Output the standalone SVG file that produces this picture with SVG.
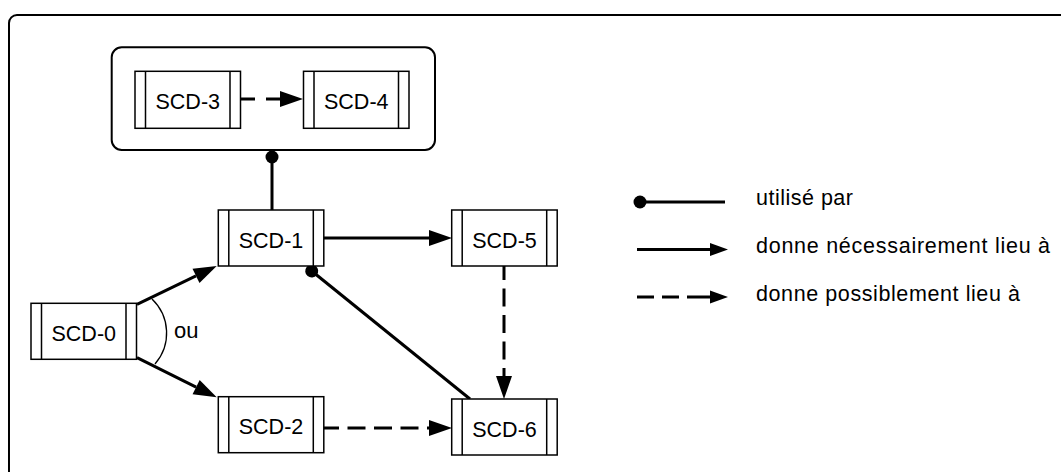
<svg xmlns="http://www.w3.org/2000/svg" width="1061" height="472" viewBox="0 0 1061 472">
<style>
.frame{fill:#fff;stroke:#000;stroke-width:2}
.box{fill:#fff;stroke:#000;stroke-width:1.5}
.bar{stroke:#000;stroke-width:1.5}
.lbl{font-family:"Liberation Sans",Arial,sans-serif;font-size:21.5px;fill:#000;text-anchor:middle}
.leg{font-family:"Liberation Sans",Arial,sans-serif;font-size:21.5px;fill:#000}
.solid{fill:none;stroke:#000;stroke-width:3}
.dash{fill:none;stroke:#000;stroke-width:3;stroke-dasharray:18 8.5}
.thin{fill:none;stroke:#000;stroke-width:1.3}
</style>
<defs>
<marker id="arr" markerUnits="userSpaceOnUse" markerWidth="23" markerHeight="16" viewBox="0 0 23 16" refX="0" refY="8" orient="auto" overflow="visible">
<path d="M0,0 L23,8 L0,16 z" fill="#000"/>
</marker>
<marker id="arrS" markerUnits="userSpaceOnUse" markerWidth="18" markerHeight="13" viewBox="0 0 18 13" refX="0" refY="6.5" orient="auto" overflow="visible">
<path d="M0,0 L18,6.5 L0,13 z" fill="#000"/>
</marker>
<marker id="dot" markerUnits="userSpaceOnUse" markerWidth="14" markerHeight="14" viewBox="-7 -7 14 14" refX="0" refY="0" orient="auto" overflow="visible">
<circle cx="0" cy="0" r="6.5" fill="#000"/>
</marker>
</defs>
<rect x="0" y="0" width="1061" height="472" fill="#fff"/>
<rect id="frame" class="frame" x="9" y="15" width="1100" height="500" rx="8"/>

<g id="group-34">
<rect class="frame" x="111.7" y="47.3" width="323.3" height="102.7" rx="10"/>
</g>

<g id="connectors">
<path class="dash" d="M240,99 L280,99" style="stroke-dasharray:15 11" marker-end="url(#arr)"/>
<path class="solid" d="M272,157 L272,210" marker-start="url(#dot)"/>
<path class="solid" d="M323,238 L429,238" marker-end="url(#arr)"/>
<path class="solid" d="M137,304.3 L196,275.9" marker-end="url(#arr)"/>
<path class="solid" d="M137,357.7 L196.1,387.1" marker-end="url(#arr)"/>
<path class="solid" d="M311.7,271 L470,399" marker-start="url(#dot)"/>
<path class="dash" d="M504,262 L504,376" marker-end="url(#arr)"/>
<path class="dash" d="M321,428 L429,428" marker-end="url(#arr)"/>
<path class="thin" d="M152,299 A47,47 0 0 1 155,364"/>
</g>

<g id="scd-0">
<rect class="box" x="31" y="303.3" width="105.5" height="56"/>
<path class="bar" d="M41.5,303.3 V359.3 M126,303.3 V359.3"/>
<text class="lbl" x="83.75" y="340.8">SCD-0</text>
</g>
<g id="scd-1">
<rect class="box" x="218.3" y="210" width="105.5" height="56"/>
<path class="bar" d="M228.8,210 V266 M313.3,210 V266"/>
<text class="lbl" x="271" y="247.5">SCD-1</text>
</g>
<g id="scd-2">
<rect class="box" x="218.3" y="396.7" width="105.5" height="56"/>
<path class="bar" d="M228.8,396.7 V452.7 M313.3,396.7 V452.7"/>
<text class="lbl" x="271" y="434.2">SCD-2</text>
</g>
<g id="scd-3">
<rect class="box" x="135" y="71.3" width="105.5" height="57"/>
<path class="bar" d="M145.5,71.3 V128.3 M230,71.3 V128.3"/>
<text class="lbl" x="187.75" y="109.3">SCD-3</text>
</g>
<g id="scd-4">
<rect class="box" x="303.5" y="71.3" width="105.5" height="57"/>
<path class="bar" d="M314,71.3 V128.3 M398.5,71.3 V128.3"/>
<text class="lbl" x="356.25" y="109.3">SCD-4</text>
</g>
<g id="scd-5">
<rect class="box" x="451.7" y="210" width="105.5" height="56"/>
<path class="bar" d="M462.2,210 V266 M546.7,210 V266"/>
<text class="lbl" x="504.5" y="247.5">SCD-5</text>
</g>
<g id="scd-6">
<rect class="box" x="451.7" y="399" width="105.5" height="56"/>
<path class="bar" d="M462.2,399 V455 M546.7,399 V455"/>
<text class="lbl" x="504.5" y="436.5">SCD-6</text>
</g>

<text class="leg" x="174" y="338" style="font-size:22px">ou</text>

<g id="legend">
<path class="solid" d="M640,202 L725,202" marker-start="url(#dot)"/>
<text class="leg" x="756" y="205" textLength="97" lengthAdjust="spacing">utilisé par</text>
<path class="solid" d="M637,249.5 L710,249.5" marker-end="url(#arrS)"/>
<text class="leg" x="756" y="253" textLength="294" lengthAdjust="spacing">donne nécessairement lieu à</text>
<path class="solid" d="M637,297 L710,297" style="stroke-dasharray:17 8 17 8 24 100" marker-end="url(#arrS)"/>
<text class="leg" x="756" y="300.5" textLength="264" lengthAdjust="spacing">donne possiblement lieu à</text>
</g>
</svg>
